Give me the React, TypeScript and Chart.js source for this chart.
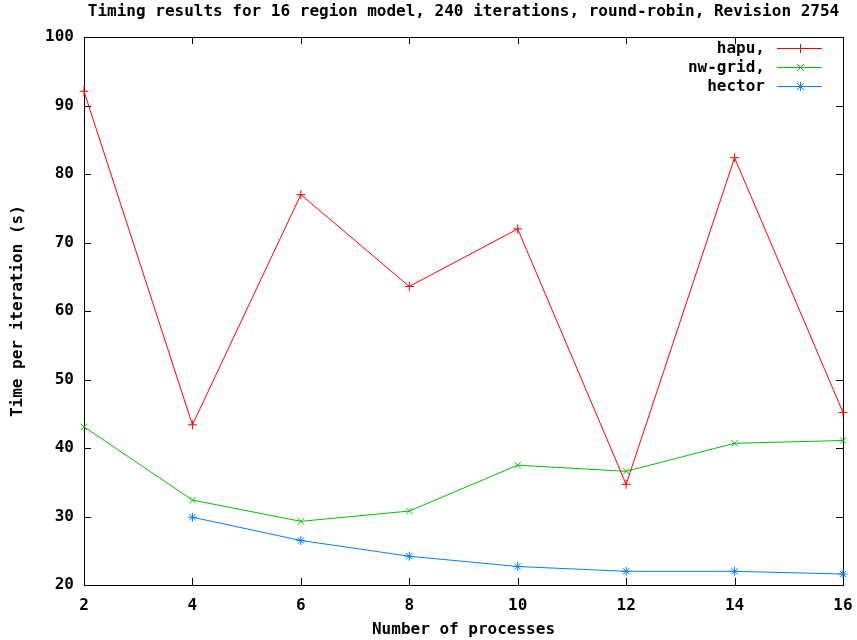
import React, { useEffect, useRef } from 'react';
import { Chart, registerables } from 'chart.js';

Chart.register(...registerables);

const processCounts = [2, 4, 6, 8, 10, 12, 14, 16];
const hapuTimes = [92.1, 43.4, 77.0, 63.6, 72.0, 34.7, 82.4, 45.2];
const nwGridTimes = [43.1, 32.4, 29.3, 30.8, 37.5, 36.6, 40.7, 41.1];
const hectorTimes: (number | null)[] = [null, 29.9, 26.5, 24.2, 22.7, 22.0, 22.0, 21.6];
const seriesLabels = ['hapu,', 'nw-grid,', 'hector'];
const seriesColors = ['#ff0000', '#00c000', '#0080ff'];
const seriesMarkers = ['cross', 'crossRot', 'star'];
const titleText = 'Timing results for 16 region model, 240 iterations, round-robin, Revision 2754';
const xAxisTitle = 'Number of processes';
const yAxisTitle = 'Time per iteration (s)';
const xTickValues = [2, 4, 6, 8, 10, 12, 14, 16];
const yTickValues = [20, 30, 40, 50, 60, 70, 80, 90, 100];

const FONT_FAMILY = '"DejaVu Sans Mono", "Liberation Mono", monospace';

function toPoints(values: (number | null)[]) {
  return processCounts
    .map((x, i) => ({ x, y: values[i] }))
    .filter((p) => p.y !== null && p.y !== undefined) as { x: number; y: number }[];
}

function drawMarker(ctx: CanvasRenderingContext2D, style: string, x: number, y: number, r: number) {
  ctx.beginPath();
  if (style === 'cross' || style === 'star') {
    ctx.moveTo(x - r, y);
    ctx.lineTo(x + r, y);
    ctx.moveTo(x, y - r);
    ctx.lineTo(x, y + r);
  }
  if (style === 'crossRot' || style === 'star') {
    const d = r * 0.75;
    ctx.moveTo(x - d, y - d);
    ctx.lineTo(x + d, y + d);
    ctx.moveTo(x - d, y + d);
    ctx.lineTo(x + d, y - d);
  }
  ctx.stroke();
}

const framePlugin = {
  id: 'gnuplotFrame',
  beforeDatasetsDraw(chart: any) {
    const { ctx, chartArea } = chart;
    const { left, right, top, bottom } = chartArea;
    const xs = chart.scales.x;
    const ys = chart.scales.y;
    const tick = 7;
    ctx.save();
    ctx.strokeStyle = '#000000';
    ctx.lineWidth = 1;
    ctx.beginPath();
    xTickValues.forEach((v) => {
      const px = Math.round(xs.getPixelForValue(v)) + 0.5;
      ctx.moveTo(px, bottom);
      ctx.lineTo(px, bottom - tick);
      ctx.moveTo(px, top);
      ctx.lineTo(px, top + tick);
    });
    yTickValues.forEach((v) => {
      const py = Math.round(ys.getPixelForValue(v)) + 0.5;
      ctx.moveTo(left, py);
      ctx.lineTo(left + tick, py);
      ctx.moveTo(right, py);
      ctx.lineTo(right - tick, py);
    });
    ctx.stroke();
    ctx.strokeRect(Math.round(left) + 0.5, Math.round(top) + 0.5, Math.round(right - left), Math.round(bottom - top));
    ctx.restore();
  },
};

const legendPlugin = {
  id: 'gnuplotKey',
  afterDraw(chart: any) {
    const { ctx, chartArea } = chart;
    ctx.save();
    ctx.font = `bold 16px ${FONT_FAMILY}`;
    ctx.textAlign = 'right';
    ctx.textBaseline = 'middle';
    chart.data.datasets.forEach((ds: any, i: number) => {
      const y = Math.round(chartArea.top + 11 + i * 19) + 0.5;
      const textX = chartArea.right - 78;
      const x0 = chartArea.right - 66;
      const x1 = chartArea.right - 21;
      ctx.fillStyle = '#000000';
      ctx.fillText(ds.label, textX, y);
      ctx.strokeStyle = ds.borderColor;
      ctx.lineWidth = 1;
      ctx.beginPath();
      ctx.moveTo(x0, y);
      ctx.lineTo(x1, y);
      ctx.stroke();
      drawMarker(ctx, ds.pointStyle, Math.round((x0 + x1) / 2) + 0.5, y, 4.5);
    });
    ctx.restore();
  },
};

export default function App() {
  const canvasRef = useRef<HTMLCanvasElement | null>(null);

  useEffect(() => {
    document.body.style.margin = '0';
    const canvas = canvasRef.current;
    if (!canvas) return;
    const allSeries = [hapuTimes, nwGridTimes, hectorTimes];
    const chart = new Chart(canvas, {
      type: 'line',
      data: {
        datasets: allSeries.map((vals, i) => ({
          label: seriesLabels[i],
          data: toPoints(vals),
          borderColor: seriesColors[i],
          backgroundColor: seriesColors[i],
          borderWidth: 1,
          pointStyle: seriesMarkers[i] as any,
          pointRadius: 4.5,
          pointBorderWidth: 1,
          pointBorderColor: seriesColors[i],
          pointHoverRadius: 4.5,
          tension: 0,
          fill: false,
          clip: false as any,
        })),
      },
      options: {
        animation: false,
        responsive: false,
        devicePixelRatio: 1,
        layout: { padding: { top: 0, right: 14, bottom: 0, left: 0 } },
        plugins: {
          legend: { display: false },
          tooltip: { enabled: false },
          title: {
            display: true,
            text: titleText,
            fullSize: false,
            color: '#000000',
            font: { family: FONT_FAMILY, size: 16, weight: 'bold', lineHeight: 1.2 },
            padding: { top: 2, bottom: 16 },
          },
        },
        scales: {
          x: {
            type: 'linear',
            min: 2,
            max: 16,
            grid: { display: false, drawTicks: false },
            border: { display: false },
            ticks: {
              stepSize: 2,
              color: '#000000',
              padding: 11,
              font: { family: FONT_FAMILY, size: 16, weight: 'bold' },
            },
            title: {
              display: true,
              text: xAxisTitle,
              color: '#000000',
              font: { family: FONT_FAMILY, size: 16, weight: 'bold', lineHeight: 1.2 },
              padding: { top: 0, bottom: 1 },
            },
            afterFit: (scale: any) => {
              scale.height = 55;
              scale.paddingLeft = 0;
              scale.paddingRight = 0;
            },
          },
          y: {
            type: 'linear',
            min: 20,
            max: 100,
            grid: { display: false, drawTicks: false },
            border: { display: false },
            ticks: {
              stepSize: 10,
              color: '#000000',
              padding: 10,
              font: { family: FONT_FAMILY, size: 16, weight: 'bold' },
            },
            title: {
              display: true,
              text: yAxisTitle,
              color: '#000000',
              font: { family: FONT_FAMILY, size: 16, weight: 'bold', lineHeight: 1.2 },
              padding: { top: 8, bottom: 0 },
            },
            afterFit: (scale: any) => {
              scale.width = 84;
            },
          },
        },
      },
      plugins: [framePlugin, legendPlugin],
    });
    return () => {
      chart.destroy();
    };
  }, []);

  return (
    <div style={{ width: 857, height: 640, background: '#ffffff' }}>
      <canvas ref={canvasRef} width={857} height={640} style={{ display: 'block' }} />
    </div>
  );
}
